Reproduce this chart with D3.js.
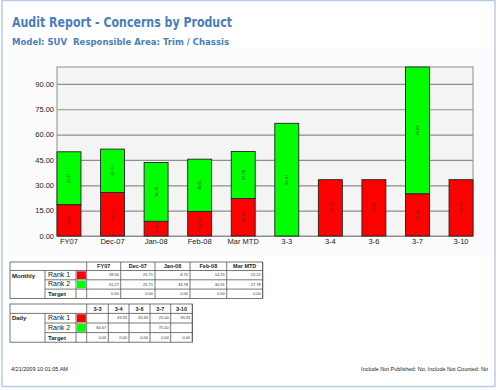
<!DOCTYPE html>
<html>
<head>
<meta charset="utf-8">
<script src="https://cdn.jsdelivr.net/npm/d3@7"></script>
<style>
  body { margin: 0; background: #fff; }
  svg { display: block; }
</style>
</head>
<body>
<div id="app"></div>
<script>
const categories = ['FY07', 'Dec-07', 'Jan-08', 'Feb-08', 'Mar MTD', '3-3', '3-4', '3-6', '3-7', '3-10'];
const rank1 = [18.56, 25.71, 8.70, 14.55, 22.22, 0, 33.33, 33.33, 25.00, 33.33];
const rank2 = [31.27, 25.71, 34.78, 30.91, 27.78, 66.67, 0, 0, 75.00, 0];
const yTicks = [0, 15, 30, 45, 60, 75, 90];

const monthlyCols = ['FY07', 'Dec-07', 'Jan-08', 'Feb-08', 'Mar MTD'];
const monthlyRank1 = ['18.56', '25.71', '8.70', '14.55', '22.22'];
const monthlyRank2 = ['31.27', '25.71', '34.78', '30.91', '27.78'];
const monthlyTarget = ['0.00', '0.00', '0.00', '0.00', '0.00'];

const dailyCols = ['3-3', '3-4', '3-6', '3-7', '3-10'];
const dailyRank1 = ['', '33.33', '33.33', '25.00', '33.33'];
const dailyRank2 = ['66.67', '', '', '75.00', ''];
const dailyTarget = ['0.00', '0.00', '0.00', '0.00', '0.00'];

const W = 500, H = 390;
const plot = { left: 57, right: 473, top: 67, bottom: 236 };
const RED = '#ff0000', GREEN = '#00ff00';
const titleColor = '#4a7ebb';

const svg = d3.select('#app').append('svg')
  .attr('width', W)
  .attr('height', H)
  .style('font-family', 'Liberation Sans, Arial, sans-serif');

// page frame
svg.append('rect')
  .attr('x', 2).attr('y', 0.5).attr('width', 493).attr('height', 386)
  .attr('fill', '#fff').attr('stroke', '#b8cce4').attr('stroke-width', 1.5);

// titles
svg.append('text')
  .attr('x', 12).attr('y', 27)
  .attr('fill', titleColor)
  .style('font-family', 'DejaVu Sans, sans-serif')
  .style('font-weight', 'bold').style('font-size', '14px')
  .attr('textLength', 220).attr('lengthAdjust', 'spacingAndGlyphs')
  .text('Audit Report - Concerns by Product');

svg.append('text')
  .attr('x', 12).attr('y', 45)
  .attr('fill', titleColor)
  .style('font-family', 'DejaVu Sans, sans-serif')
  .style('font-weight', 'bold').style('font-size', '9.5px')
  .attr('textLength', 217).attr('lengthAdjust', 'spacingAndGlyphs')
  .attr('xml:space', 'preserve')
  .text('Model: SUV  Responsible Area: Trim / Chassis');

// chart area background
svg.append('rect')
  .attr('x', 8).attr('y', 48).attr('width', 481).attr('height', 208)
  .attr('fill', '#fbfbfb');

const x = d3.scaleBand()
  .domain(categories)
  .range([plot.left, plot.right])
  .paddingInner(0.45)
  .paddingOuter(0);

const y = d3.scaleLinear()
  .domain([0, 100])
  .range([plot.bottom, plot.top]);

svg.append('rect')
  .attr('x', plot.left).attr('y', plot.top)
  .attr('width', plot.right - plot.left).attr('height', plot.bottom - plot.top)
  .attr('fill', '#f4f4f4');

const yAxis = svg.append('g')
  .attr('transform', `translate(${plot.left},0)`)
  .call(d3.axisLeft(y)
    .tickValues(yTicks)
    .tickFormat(d3.format('.2f'))
    .tickSize(-(plot.right - plot.left))
    .tickPadding(3));
yAxis.select('.domain').remove();
yAxis.selectAll('line').attr('stroke', '#8e8e8e').attr('stroke-width', 1.2);
yAxis.selectAll('text')
  .style('font-size', '7.5px').attr('fill', '#222')
  .attr('dy', '0.3em');

// plot border
svg.append('rect')
  .attr('x', plot.left).attr('y', plot.top)
  .attr('width', plot.right - plot.left).attr('height', plot.bottom - plot.top)
  .attr('fill', 'none').attr('stroke', '#8e8e8e').attr('stroke-width', 1);

// stacked bars
const series = d3.stack().keys(['r1', 'r2'])(categories.map((c, i) => ({ cat: c, r1: rank1[i], r2: rank2[i] })));
const colors = { r1: RED, r2: GREEN };

const layers = svg.append('g').selectAll('g')
  .data(series)
  .join('g')
  .attr('fill', d => colors[d.key]);

layers.selectAll('rect')
  .data(d => d.filter(p => p[1] - p[0] > 0))
  .join('rect')
  .attr('x', d => x(d.data.cat))
  .attr('y', d => y(d[1]))
  .attr('width', x.bandwidth())
  .attr('height', d => y(d[0]) - y(d[1]))
  .attr('stroke', '#222')
  .attr('stroke-width', 0.9);

layers.selectAll('text')
  .data(d => d.filter(p => p[1] - p[0] > 0))
  .join('text')
  .attr('transform', d => {
    const cx = x(d.data.cat) + x.bandwidth() / 2;
    const cy = (y(d[0]) + y(d[1])) / 2;
    return `translate(${cx},${cy}) rotate(-90)`;
  })
  .attr('text-anchor', 'middle')
  .attr('dy', '0.35em')
  .attr('fill', '#333')
  .style('font-size', '4px')
  .text(d => (d[1] - d[0]).toFixed(2));

// x labels
const xAxis = svg.append('g')
  .attr('transform', `translate(0,${plot.bottom})`)
  .call(d3.axisBottom(x).tickSize(0).tickPadding(3));
xAxis.select('.domain').remove();
xAxis.selectAll('text').style('font-size', '7.5px').attr('fill', '#222');

// tables
function drawTable(top, rowH, headH, label, cols, colEdges, rows) {
  const g = svg.append('g');
  const left = 10, c1 = 45, c2 = 76, c3 = 86.7;
  const right = colEdges[colEdges.length - 1];
  const bottom = top + headH + rowH * 3;
  const stroke = '#555';
  const line = (x1, y1, x2, y2) => g.append('line')
    .attr('x1', x1).attr('y1', y1).attr('x2', x2).attr('y2', y2)
    .attr('stroke', stroke).attr('stroke-width', 0.8);

  g.append('rect').attr('x', left).attr('y', top)
    .attr('width', right - left).attr('height', bottom - top)
    .attr('fill', '#fff').attr('stroke', stroke).attr('stroke-width', 0.8);

  line(left, top + headH, right, top + headH);
  for (let r = 1; r < 3; r++) line(c1, top + headH + rowH * r, right, top + headH + rowH * r);
  line(c1, top + headH, c1, bottom);
  line(c2, top + headH, c2, bottom);
  colEdges.forEach(cx => line(cx, top, cx, bottom));

  // swatches
  [RED, GREEN].forEach((col, r) => {
    g.append('rect')
      .attr('x', c2 + 0.8).attr('y', top + headH + rowH * r + 0.8)
      .attr('width', c3 - c2 - 1.6).attr('height', rowH - 1.6)
      .attr('fill', col);
  });

  g.append('text').attr('x', left + 2).attr('y', top + headH + 7)
    .style('font-size', '6px').style('font-weight', 'bold').attr('fill', '#222')
    .text(label);
  ['Rank 1', 'Rank 2', 'Target'].forEach((t, r) => {
    g.append('text').attr('x', c1 + 3).attr('y', top + headH + rowH * r + rowH * 0.72)
      .style('font-size', r < 2 ? '7px' : '6px')
      .style('font-weight', r < 2 ? 'normal' : 'bold')
      .attr('fill', '#222').text(t);
  });

  cols.forEach((c, i) => {
    g.append('text')
      .attr('x', (colEdges[i] + colEdges[i + 1]) / 2).attr('y', top + headH * 0.72)
      .attr('text-anchor', 'middle')
      .style('font-size', '5.5px').style('font-weight', 'bold').attr('fill', '#222')
      .text(c);
    rows.forEach((vals, r) => {
      g.append('text')
        .attr('x', colEdges[i + 1] - 2).attr('y', top + headH + rowH * r + rowH * 0.62)
        .attr('text-anchor', 'end')
        .style('font-size', '4px').attr('fill', '#333')
        .text(vals[i]);
    });
  });
}

drawTable(262, 9.3, 8.5, 'Monthly', monthlyCols,
  [86.7, 120.7, 155, 190, 226.7, 262.7],
  [monthlyRank1, monthlyRank2, monthlyTarget]);

drawTable(304, 9.6, 9.4, 'Daily', dailyCols,
  [86.7, 108.3, 129, 150, 170.7, 192.3],
  [dailyRank1, dailyRank2, dailyTarget]);

// footer
svg.append('text').attr('x', 11).attr('y', 371)
  .style('font-size', '5.5px').attr('fill', '#222')
  .text('4/21/2009 10:01:05 AM');
svg.append('text').attr('x', 488).attr('y', 371)
  .attr('text-anchor', 'end')
  .style('font-size', '5.5px').attr('fill', '#222')
  .text('Include Not Published: No, Include Not Counted: No');
</script>
</body>
</html>
